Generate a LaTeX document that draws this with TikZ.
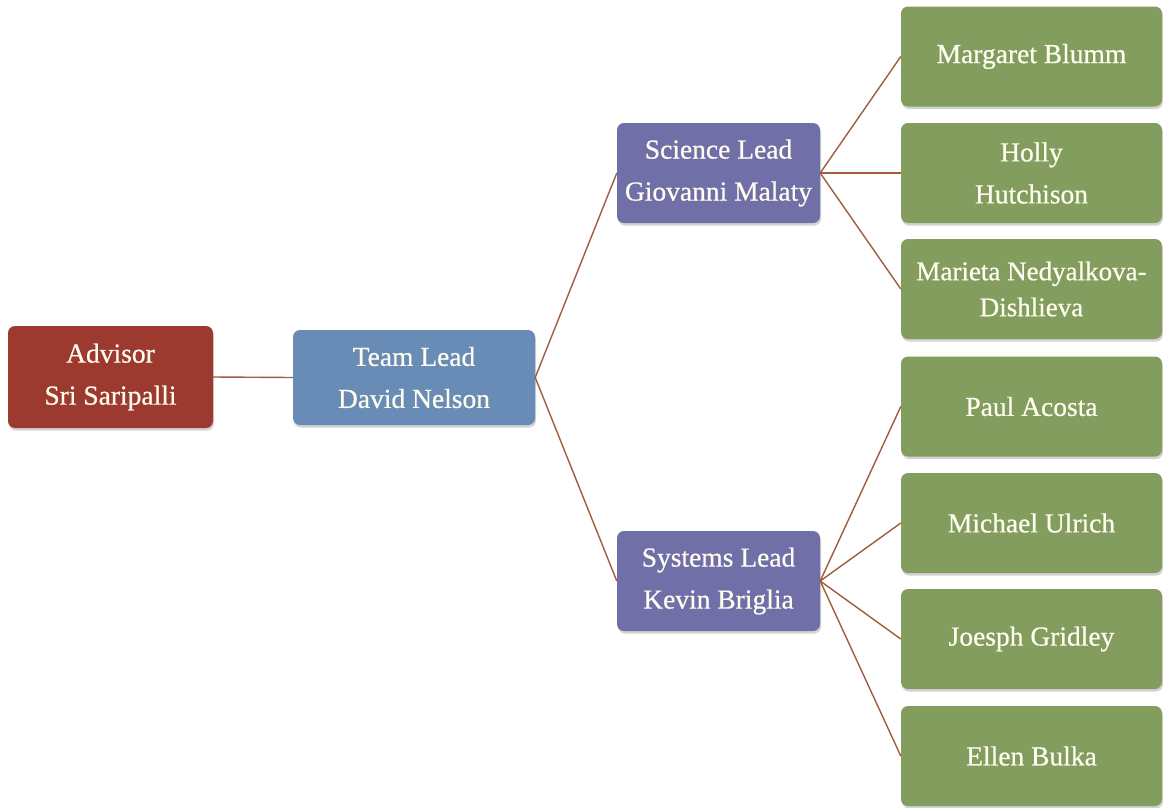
\documentclass[tikz,border=0pt]{standalone}
\usepackage{fontspec}
\setmainfont{Liberation Serif}
\newfontfamily\boxfont{Liberation Serif}[FakeBold=0.6]
\usetikzlibrary{shadows}
\definecolor{cred}{RGB}{156,58,47}
\definecolor{cblue}{RGB}{104,140,181}
\definecolor{cpurple}{RGB}{112,111,168}
\definecolor{cgreen}{RGB}{130,157,94}
\definecolor{cline}{RGB}{160,92,60}
\definecolor{ctext}{RGB}{255,253,240}
\tikzset{
  box/.style={draw=none, rounded corners=7pt, align=center, inner sep=0pt,
    text=ctext, font=\boxfont\fontsize{27.5}{42}\selectfont,
    drop shadow={opacity=0.35, shadow xshift=1pt, shadow yshift=-2.5pt}},
  advbox/.style={box, fill=cred, minimum width=205pt, minimum height=102pt},
  leadbox/.style={box, fill=cblue, minimum width=242pt, minimum height=95pt},
  subbox/.style={box, fill=cpurple, minimum width=203pt, minimum height=100pt},
  membox/.style={box, fill=cgreen, minimum width=261pt, minimum height=100pt},
  conn/.style={draw=cline, line width=1.4pt}
}
\begin{document}
\begin{tikzpicture}[x=1pt,y=-1pt]
\useasboundingbox (0,0) rectangle (1163,807);
\node[advbox] (adv) at (110.5,377) {Advisor\\Sri Saripalli};
\node[leadbox] (team) at (414,377.5) {Team Lead\\David Nelson};
\node[subbox] (sci) at (718.5,173) {Science Lead\\Giovanni Malaty};
\node[subbox] (sys) at (718.5,581) {Systems Lead\\Kevin Briglia};
\node[membox] (m1) at (1031.5,56.5) {Margaret Blumm};
\node[membox] (m2) at (1031.5,173) {Holly\\Hutchison};
\node[membox, font=\boxfont\fontsize{27}{36}\selectfont] (m3) at (1031.5,289) {Marieta Nedyalkova-\\Dishlieva};
\node[membox] (m4) at (1031.5,406.5) {Paul Acosta};
\node[membox] (m5) at (1031.5,523) {Michael Ulrich};
\node[membox] (m6) at (1031.5,639) {Joesph Gridley};
\node[membox] (m7) at (1031.5,756) {Ellen Bulka};
\draw[conn] (adv.east) -- (team.west);
\draw[conn] (team.east) -- (sci.west);
\draw[conn] (team.east) -- (sys.west);
\foreach \m in {m1,m2,m3}{\draw[conn] (sci.east) -- (\m.west);}
\foreach \m in {m4,m5,m6,m7}{\draw[conn] (sys.east) -- (\m.west);}
\end{tikzpicture}
\end{document}
